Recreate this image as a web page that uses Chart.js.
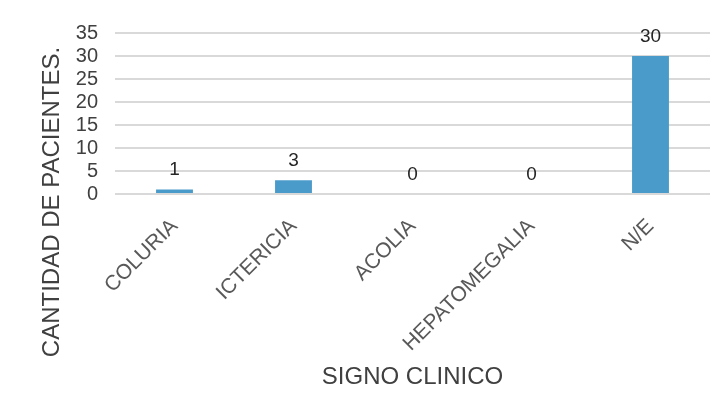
<!DOCTYPE html>
<html>
<head>
<meta charset="utf-8">
<script src="https://cdn.jsdelivr.net/npm/chart.js@4"></script>
<style>
  body { margin: 0; background: #ffffff; }
  #grafico { display: block; }
</style>
</head>
<body>
<canvas id="grafico" width="724" height="414"></canvas>
<script>
const categorias = ['COLURIA', 'ICTERICIA', 'ACOLIA', 'HEPATOMEGALIA', 'N/E'];
const pacientes = [1, 3, 0, 0, 30];
const ticksY = [0, 5, 10, 15, 20, 25, 30, 35];
const tituloX = 'SIGNO CLINICO';
const tituloY = 'CANTIDAD DE PACIENTES.';

const fuente = "'Liberation Sans', Arial, Helvetica, sans-serif";

// etiquetas de valor encima de cada barra
const etiquetasValor = {
  id: 'etiquetasValor',
  afterDatasetsDraw(chart) {
    const ctx = chart.ctx;
    const meta = chart.getDatasetMeta(0);
    ctx.save();
    ctx.font = '19px ' + fuente;
    ctx.fillStyle = '#262626';
    ctx.textAlign = 'center';
    ctx.textBaseline = 'bottom';
    meta.data.forEach((barra, i) => {
      ctx.fillText(String(pacientes[i]), barra.x, barra.y - 10);
    });
    ctx.restore();
  }
};

// titulo del eje Y centrado en todo el alto del lienzo
const tituloEjeY = {
  id: 'tituloEjeY',
  afterDraw(chart) {
    const ctx = chart.ctx;
    ctx.save();
    ctx.translate(52, 202);
    ctx.rotate(-Math.PI / 2);
    ctx.font = '24px ' + fuente;
    ctx.fillStyle = '#404040';
    ctx.textAlign = 'center';
    ctx.textBaseline = 'middle';
    ctx.fillText(tituloY, 0, 0);
    ctx.restore();
  }
};

const ctx = document.getElementById('grafico').getContext('2d');
const grafico = new Chart(ctx, {
  type: 'bar',
  data: {
    labels: categorias,
    datasets: [{
      label: tituloY,
      data: pacientes,
      backgroundColor: '#4b9bca',
      borderWidth: 0,
      categoryPercentage: 1,
      barPercentage: 0.31
    }]
  },
  options: {
    responsive: false,
    animation: false,
    layout: { padding: { top: 33, right: 14, bottom: 0, left: 0 } },
    plugins: {
      legend: { display: false },
      tooltip: { enabled: false }
    },
    scales: {
      x: {
        grid: { display: false },
        border: { display: false },
        ticks: {
          color: '#595959',
          font: { family: fuente, size: 21 },
          minRotation: 45,
          maxRotation: 45,
          padding: 12,
          autoSkip: false
        },
        title: {
          display: true,
          text: tituloX,
          color: '#404040',
          font: { family: fuente, size: 24 },
          padding: { top: 0, bottom: 22 }
        },
        afterFit(scale) { scale.height = 220; }
      },
      y: {
        min: 0,
        max: 35,
        afterBuildTicks(scale) { scale.ticks = ticksY.map(v => ({ value: v })); },
        grid: { color: '#d9d9d9', lineWidth: 2, drawTicks: false },
        border: { display: false },
        ticks: {
          color: '#404040',
          font: { family: fuente, size: 20 },
          padding: 17,
          autoSkip: false
        },
        afterFit(scale) { scale.width = 115; }
      }
    }
  },
  plugins: [etiquetasValor, tituloEjeY]
});
</script>
</body>
</html>
